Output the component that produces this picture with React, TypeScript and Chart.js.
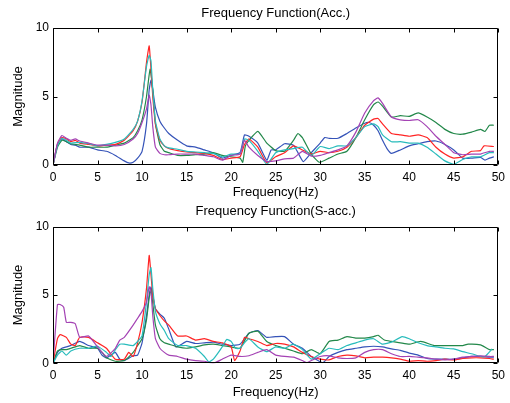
import React, { useEffect, useRef } from 'react';
import { Chart, registerables } from 'chart.js';

Chart.register(...registerables);

// ---------------- data ----------------
const xTicks = [0, 5, 10, 15, 20, 25, 30, 35, 40, 45, 50];
const yTicks = [0, 5, 10];
const seriesColors = ['#3553b8', '#23884a', '#ff2424', '#28bcbc', '#a443b4'];

const accBlue = [[0,0],[0.5,1.5],[1,1.9],[1.5,1.7],[2,1.5],[2.5,1.45],[3,1.3],[4,1.3],[5,1.1],[6,1.0],[7,0.7],[8,0.3],[8.5,0.15],[9,0.2],[9.5,0.5],[10,1.0],[10.5,3.0],[10.8,5.5],[11,6.2],[11.2,5.5],[11.5,4.2],[12,3.2],[12.5,2.7],[13,2.3],[14,1.8],[15,1.4],[16,1.3],[17,1.1],[18,0.9],[19,0.5],[20,0.7],[21,0.9],[21.5,2.2],[22,2.1],[23,1.6],[24,0.35],[24.5,1.1],[25,1.1],[26,1.55],[27,1.45],[27.5,0.9],[28.1,0.25],[29,0.9],[30,1.6],[30.5,2.0],[31,1.95],[32,1.95],[33,2.3],[34,2.7],[35,3.05],[35.5,3.1],[36,2.9],[36.5,2.5],[37,1.8],[37.5,1.2],[38,0.85],[39,1.1],[40,1.4],[41,1.55],[42,1.7],[43,1.75],[44,1.5],[45,1.1],[46,0.5],[47,0.5],[48,0.55],[48.5,0.35],[49,0.5],[49.5,0.6]];
const accGreen = [[0,0],[0.5,1.3],[1,1.8],[1.5,1.7],[2,1.55],[3,1.45],[4,1.3],[5,1.3],[6,1.3],[7,1.45],[8,1.6],[9,2.0],[9.5,2.5],[10,3.3],[10.5,5.0],[10.9,7.0],[11.2,5.5],[11.5,3.0],[12,1.5],[12.5,1.0],[13,0.9],[14,0.7],[15,0.7],[16,0.75],[17,0.8],[18,0.9],[19,0.7],[20,0.6],[21,0.5],[21.3,0.2],[21.6,1.4],[22,1.8],[23,2.45],[24,1.6],[25,1.05],[26,1.0],[27,1.8],[27.5,2.3],[28,2.0],[29,0.8],[29.9,0.2],[31,0.5],[32,0.8],[33,1.0],[34,2.0],[35,3.3],[36,4.4],[36.5,4.6],[37,4.3],[38,3.5],[39,3.6],[40,3.55],[41,3.8],[42,3.5],[43,3.1],[44,2.6],[45,2.3],[46,2.25],[47,2.4],[48,2.6],[48.5,2.45],[49,2.9],[49.5,2.9]];
const accRed = [[0,0],[0.5,1.5],[1,2.0],[1.5,1.9],[2,1.7],[2.5,1.8],[3,1.6],[4,1.5],[5,1.4],[6,1.45],[7,1.5],[8,1.8],[9,2.5],[9.5,3.2],[10,4.6],[10.5,7.5],[10.8,8.7],[11,7.0],[11.2,5.0],[11.5,3.0],[12,1.8],[12.5,1.4],[13,1.2],[14,1.05],[15,0.95],[16,0.9],[17,0.85],[18,0.7],[19,0.4],[20,0.5],[21,0.6],[21.5,1.5],[22,1.9],[23,1.3],[24,0.15],[25,0.6],[26,0.9],[27,1.4],[28,1.1],[29,0.8],[30,1.0],[31,0.9],[32,1.0],[33,1.3],[34,2.0],[35,2.9],[36,3.35],[36.5,3.4],[37,3.0],[38,2.3],[39,2.2],[40,2.1],[41,2.2],[42,2.0],[43,1.3],[44,0.8],[45,0.5],[46,0.6],[47,1.0],[48,1.05],[48.4,1.4],[49.5,1.35]];
const accCyan = [[0,0],[0.5,1.4],[1,1.95],[1.5,1.8],[2,1.6],[3,1.65],[4,1.55],[5,1.4],[6,1.5],[7,1.65],[8,1.9],[9,2.6],[9.5,3.2],[10,4.7],[10.5,7.2],[10.8,8.0],[11,7.6],[11.2,5.5],[11.5,3.2],[12,1.9],[12.5,1.4],[13,1.25],[14,1.15],[15,1.0],[16,0.95],[17,0.9],[18,0.85],[19,0.6],[20,0.8],[21,0.8],[21.5,1.9],[22,1.8],[23,1.0],[24,0.05],[25,0.9],[26,1.1],[27,1.2],[28,1.3],[29,0.7],[30,1.35],[31,1.2],[32,1.4],[33,1.4],[34,2.0],[35,2.8],[36,3.0],[36.5,2.8],[37,2.2],[38,1.7],[39,1.7],[40,1.6],[41,1.6],[42,1.3],[43,0.8],[44,0.3],[45,0.05],[46,0.4],[47,0.6],[48,0.6],[49,0.9],[49.5,0.9]];
const accMagenta = [[0,0],[0.5,1.6],[1,2.15],[1.5,1.95],[2,1.8],[2.5,1.9],[3,1.75],[4,1.6],[5,1.45],[6,1.45],[7,1.4],[8,1.5],[9,1.9],[9.5,2.3],[10,3.1],[10.5,4.1],[10.8,5.1],[11,4.4],[11.2,2.8],[11.5,1.3],[12,0.85],[12.5,0.75],[13,0.75],[14,0.8],[15,0.8],[16,0.8],[17,0.7],[18,0.6],[19,0.35],[20,0.7],[21,0.8],[21.5,1.8],[22,1.3],[23,0.7],[24,0.25],[25,0.3],[26,0.45],[27,0.5],[28,1.0],[29,0.65],[30,0.7],[31,0.9],[32,1.1],[33,1.4],[34,2.4],[35,3.8],[36,4.7],[36.5,4.9],[37,4.5],[38,3.5],[39,3.3],[40,3.25],[41,3.3],[42,2.8],[43,2.1],[44,1.5],[45,0.9],[46,0.75],[47,0.8],[48,0.8],[49,1.0],[49.5,1.0]];

const saccBlue = [[0,0],[0.5,0.8],[1,1.1],[1.5,1.2],[2,1.3],[3,1.6],[4,1.3],[5,1.1],[5.5,0.6],[6,0.4],[6.5,0.6],[7,0.8],[7.5,0.3],[8,0.2],[9,0.55],[9.5,0.6],[10,1.5],[10.5,3.5],[10.8,5.0],[11,5.6],[11.2,5.0],[11.5,4.0],[12,3.6],[12.5,3.3],[13,2.5],[13.8,1.2],[15,1.6],[16,1.45],[17,1.5],[18,1.55],[19,1.4],[20,1.3],[21,1.4],[22,2.2],[23,2.4],[24,1.9],[25,1.95],[26,1.95],[27,1.4],[28,1.1],[29,0.5],[30.3,0.05],[31,0.5],[32,0.8],[33,1.0],[34,1.1],[35,1.2],[36,1.25],[37,1.2],[38,1.05],[39,0.95],[40,0.75],[41,0.6],[42,0.35],[43,0.3],[44,0.3],[45,0.3],[46,0.4],[47,0.5],[48,0.5],[49,0.45],[49.5,0.45]];
const saccGreen = [[0,0],[0.5,0.9],[1,1.0],[1.5,1.0],[2,1.1],[3,1.3],[4,1.1],[5,1.1],[5.5,0.8],[6,0.4],[7,0.15],[8,0.2],[9,0.8],[9.5,1.3],[10,1.8],[10.5,3.2],[10.8,4.8],[11,5.4],[11.2,4.4],[11.5,2.8],[12,1.8],[12.5,1.5],[13,1.4],[14,1.2],[15,1.1],[16,1.2],[17,1.35],[18,1.4],[19,1.3],[20,1.2],[21,1.1],[22,2.2],[23,2.35],[24,1.6],[25,1.3],[26,1.1],[27,0.9],[28,0.7],[29,1.0],[30,0.7],[31,1.6],[32,1.7],[33,1.95],[34,1.85],[35,1.85],[36,1.95],[36.5,2.05],[37.2,1.7],[38,1.6],[39,1.5],[40,1.4],[41.3,1.6],[42.8,1.3],[44,1.3],[45,1.3],[46,1.3],[46.6,1.4],[48,1.35],[49,1.0],[49.5,1.0]];
const saccRed = [[0,0],[0.5,1.8],[0.8,2.1],[1.5,1.9],[2,1.4],[2.5,1.3],[3,1.9],[4,1.9],[5,1.5],[6,1.1],[7,0.3],[8,0.3],[8.5,0.8],[9,0.5],[9.5,1.5],[10,3.0],[10.5,5.5],[10.8,7.9],[11,6.5],[11.2,5.0],[11.5,4.0],[12,3.5],[12.5,3.1],[13,2.8],[14,2.0],[15,2.0],[16,1.7],[17,1.8],[18,1.6],[19,1.5],[20,1.2],[20.4,0.2],[21,0.9],[21.5,1.9],[22,1.8],[23,1.6],[24,1.3],[25,1.45],[26,1.4],[27,1.2],[28,0.8],[29,0.5],[30,0.3],[31,0.25],[32,0.5],[33,0.6],[34,0.55],[35,0.4],[36,0.45],[37,0.45],[38,0.4],[39,0.3],[40,0.15],[41,0.2],[42,0.15],[43,0.2],[44,0.3],[45,0.25],[46,0.35],[47,0.4],[48,0.4],[49,0.35],[49.5,0.3]];
const saccCyan = [[0,0],[0.5,0.6],[1,0.9],[1.5,0.6],[2,0.9],[3,1.1],[4,1.1],[5,1.25],[6,0.8],[6.5,0.5],[7,1.0],[7.5,1.4],[8,1.4],[9,1.3],[9.5,1.6],[10,2.0],[10.5,4.5],[10.8,6.5],[11,7.0],[11.2,5.5],[11.5,3.8],[12,2.9],[12.5,2.4],[13,1.8],[14,1.3],[15,1.3],[16,1.1],[17,0.5],[17.5,0.1],[18,0.3],[19,1.2],[19.5,1.75],[20,1.6],[20.5,1.1],[21,1.1],[21.5,1.5],[22,1.8],[23,1.2],[24,0.85],[25,1.2],[26,1.1],[27,1.4],[28,1.0],[29,0.3],[30,0.7],[31,1.1],[32,1.0],[33,1.3],[34,1.5],[35,1.7],[36,1.8],[37,1.4],[38,1.55],[39.2,1.95],[40,1.8],[41,1.5],[42,1.3],[43,1.2],[44,1.1],[45,1.05],[46,0.85],[47,0.7],[48,0.5],[48.5,0.5],[49.3,1.05]];
const saccMagenta = [[0,0],[0.5,4.3],[0.8,4.3],[1.2,4.1],[1.5,3.0],[2,3.0],[2.5,2.9],[3,1.9],[4,2.0],[5,1.2],[6,0.5],[7,1.1],[7.5,1.7],[8,1.9],[9,2.8],[9.5,3.3],[10,3.8],[10.5,4.5],[10.8,5.6],[11,5.2],[11.2,3.5],[11.5,1.8],[12,1.1],[12.5,0.8],[13,0.6],[14,0.5],[15,0.3],[16,0.2],[17,0.15],[18,0.0],[19,0.3],[20,0.6],[21,0.5],[22,0.55],[23,0.8],[24,1.0],[25,0.6],[26,0.5],[27,0.45],[28,0.2],[28.5,0.05],[29,0.2],[30,0.5],[31,0.55],[32,0.4],[33,0.35],[34,0.4],[35,0.8],[36,1.0],[37,1.0],[38,0.7],[39,0.5],[40,0.5],[41,0.45],[42,0.4],[43,0.3],[44,0.25],[45,0.3],[46,0.45],[47,0.5],[48,0.55],[49,0.5],[49.5,0.5]];

const accSeries = [accBlue, accGreen, accRed, accCyan, accMagenta];
const saccSeries = [saccBlue, saccGreen, saccRed, saccCyan, saccMagenta];

const FONT = 'Liberation Sans, Arial, Helvetica, sans-serif';

// draws MATLAB-like box with inward ticks on all sides
const boxPlugin = {
  id: 'matlabBox',
  afterDatasetsDraw(chart: any) {
    const ctx = chart.ctx;
    const a = chart.chartArea;
    const x = chart.scales.x;
    const y = chart.scales.y;
    const L = Math.round(a.left) + 0.5;
    const R = Math.round(a.right) - 0.5;
    const T = Math.round(a.top) + 0.5;
    const B = Math.round(a.bottom) - 0.5;
    const len = 4;
    ctx.save();
    ctx.strokeStyle = '#000';
    ctx.lineWidth = 1;
    ctx.beginPath();
    ctx.moveTo(L, T); ctx.lineTo(R, T); ctx.lineTo(R, B); ctx.lineTo(L, B); ctx.closePath();
    xTicks.forEach((v) => {
      const px = Math.round(x.getPixelForValue(v)) + 0.5;
      ctx.moveTo(px, B); ctx.lineTo(px, B - len);
      ctx.moveTo(px, T); ctx.lineTo(px, T + len);
    });
    yTicks.forEach((v) => {
      const py = Math.round(y.getPixelForValue(v)) + 0.5;
      ctx.moveTo(L, py); ctx.lineTo(L + len, py);
      ctx.moveTo(R, py); ctx.lineTo(R - len, py);
    });
    ctx.stroke();
    ctx.restore();
  },
};

function buildConfig(title: string, series: number[][][], geom: { titleTop: number; titleBottom: number; xHeight: number; xTitleBottom: number }) {
  return {
    type: 'line',
    data: {
      datasets: series.map((s, i) => ({
        data: s.map(([fx, v]) => ({ x: fx, y: v })),
        borderColor: seriesColors[i],
        borderWidth: 1.2,
        pointRadius: 0,
        tension: 0.15,
        fill: false,
        order: series.length - i,
      })),
    },
    options: {
      responsive: false,
      animation: false,
      layout: { padding: { left: 0, right: 8, top: 0, bottom: 0 } },
      plugins: {
        legend: { display: false },
        tooltip: { enabled: false },
        title: {
          display: true,
          text: title,
          fullSize: false,
          color: '#000',
          font: { family: FONT, size: 13, weight: 'normal', lineHeight: 1 },
          padding: { top: geom.titleTop, bottom: geom.titleBottom },
        },
      },
      scales: {
        x: {
          type: 'linear',
          min: 0,
          max: 50,
          afterBuildTicks: (s: any) => { s.ticks = xTicks.map((v) => ({ value: v })); },
          afterFit: (s: any) => { s.height = geom.xHeight; },
          grid: { display: false, drawTicks: false },
          border: { display: false },
          ticks: { color: '#000', font: { family: FONT, size: 12 }, padding: 5, maxRotation: 0 },
          title: {
            display: true,
            text: 'Frequency(Hz)',
            color: '#000',
            font: { family: FONT, size: 13 },
            padding: { top: 0, bottom: geom.xTitleBottom },
          },
        },
        y: {
          type: 'linear',
          min: 0,
          max: 10,
          afterBuildTicks: (s: any) => { s.ticks = yTicks.map((v) => ({ value: v })); },
          afterFit: (s: any) => { s.width = 53; },
          grid: { display: false, drawTicks: false },
          border: { display: false },
          ticks: { color: '#000', font: { family: FONT, size: 12 }, padding: 4 },
          title: {
            display: true,
            text: 'Magnitude',
            color: '#000',
            font: { family: FONT, size: 13 },
            padding: { top: 11, bottom: 0 },
          },
        },
      },
    },
    plugins: [boxPlugin],
  };
}

function Panel({ title, series, height, geom }: any) {
  const ref = useRef<HTMLCanvasElement | null>(null);
  useEffect(() => {
    if (!ref.current) return;
    const chart = new Chart(ref.current, buildConfig(title, series, geom) as any);
    return () => chart.destroy();
  }, []);
  return <canvas ref={ref} width={510} height={height} style={{ display: 'block', width: 510, height }} />;
}

export default function App() {
  return (
    <div style={{ position: 'absolute', left: 0, top: 0, width: 510, height: 403, background: '#fff' }}>
      <Panel
        title="Frequency Function(Acc.)"
        series={accSeries}
        height={200}
        geom={{ titleTop: 7, titleBottom: 8, xHeight: 35, xTitleBottom: 0 }}
      />
      <Panel
        title="Frequency Function(S-acc.)"
        series={saccSeries}
        height={203}
        geom={{ titleTop: 5, titleBottom: 8.7, xHeight: 39.7, xTitleBottom: 2.5 }}
      />
    </div>
  );
}
